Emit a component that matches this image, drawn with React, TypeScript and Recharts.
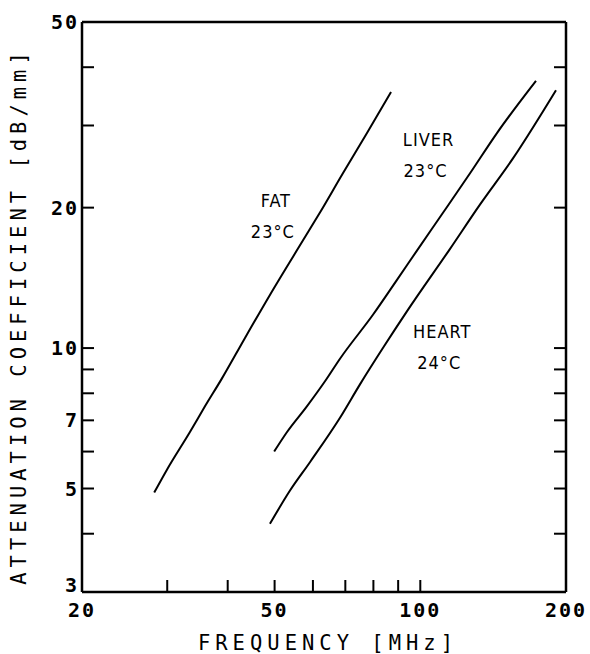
import React from 'react';
import { LineChart, Line, XAxis, YAxis, ReferenceDot, Label } from 'recharts';

// frequency [MHz] / attenuation [dB/mm]
const fatFreq = [28.2, 30, 33.4, 35.9, 38.9, 43.4, 48.9, 57.2, 62, 69.2, 77.6, 87];
const fatAtten = [4.9, 5.5, 6.6, 7.5, 8.6, 10.5, 13.0, 17, 19.5, 23.7, 28.9, 35.4];

const liverFreq = [49.9, 53, 58.3, 63.6, 68.3, 79.9, 89.5, 98.5, 111.4, 126.7, 144, 173.4];
const liverAtten = [6.0, 6.6, 7.5, 8.5, 9.5, 11.8, 14.0, 16.2, 19.5, 23.7, 28.9, 37.4];

const heartFreq = [48.9, 53.8, 59.2, 68.3, 75, 83.7, 93.9, 115.1, 132.8, 155.4, 190.7];
const heartAtten = [4.2, 4.95, 5.7, 7.1, 8.35, 10.0, 12.0, 16.3, 20.3, 25.5, 35.7];

const xTicks = [20, 30, 40, 50, 60, 70, 80, 90, 100, 200];
const xTickLabels = [20, 50, 100, 200];
const yTicks = [3, 4, 5, 6, 7, 8, 9, 10, 20, 30, 40, 50];
const yTickLabels = [3, 5, 7, 10, 20, 50];

// curve annotations: [frequency, attenuation, line1, line2]
const curveLabels: [number, number, string, string][] = [
  [50.3, 20.8, 'FAT', '23°C'],
  [104, 28.0, 'LIVER', '23°C'],
  [111, 10.9, 'HEART', '24°C'],
];

const toPoints = (fs: number[], as: number[]) => fs.map((f, i) => ({ f, a: as[i] }));

const W = 590;
const H = 654;
const LEFT = 82;
const TOP = 22;
const RIGHT = 24;
const BOTTOM = 62;
const TICK = 12;

const tickFont = {
  fontFamily: '"DejaVu Sans Mono", monospace',
  fontWeight: 700,
  fontSize: 20,
  letterSpacing: 2,
  fill: '#000',
};

const titleFont = {
  fontFamily: '"DejaVu Sans Mono", monospace',
  fontSize: 20.5,
  letterSpacing: 5,
  fill: '#000',
};

const BottomTick = ({ x, payload }: any) => (
  <g>
    <line x1={x} x2={x} y1={H - BOTTOM} y2={H - BOTTOM - TICK} stroke="#000" strokeWidth={2} />
    {xTickLabels.includes(payload.value) && (
      <text x={x} y={H - BOTTOM + 25} textAnchor="middle" {...tickFont}>
        {payload.value}
      </text>
    )}
  </g>
);

const TopTick = ({ x }: any) => (
  <line x1={x} x2={x} y1={TOP} y2={TOP + TICK} stroke="#000" strokeWidth={2} />
);

const LeftTick = ({ y, payload }: any) => (
  <g>
    <line x1={LEFT} x2={LEFT + TICK} y1={y} y2={y} stroke="#000" strokeWidth={2} />
    {yTickLabels.includes(payload.value) && (
      <text x={LEFT - 3} y={Math.min(y + 7, H - BOTTOM)} textAnchor="end" {...tickFont}>
        {payload.value}
      </text>
    )}
  </g>
);

const RightTick = ({ y }: any) => (
  <line x1={W - RIGHT} x2={W - RIGHT - TICK} y1={y} y2={y} stroke="#000" strokeWidth={2} />
);

const CurveLabel = (line1: string, line2: string) => (props: any) => {
  const { x, y } = props.viewBox;
  const font = {
    fontFamily: '"DejaVu Sans Condensed", "Liberation Sans Narrow", sans-serif',
    fontSize: 18,
    letterSpacing: 1,
    fill: '#000',
    textAnchor: 'middle' as const,
  };
  return (
    <g>
      <text x={x} y={y + 7} {...font}>{line1}</text>
      <text x={x - 3} y={y + 38} {...font}>{line2}</text>
    </g>
  );
};

export default function App() {
  return (
    <div style={{ position: 'absolute', left: 0, top: 0, background: '#fff' }}>
      <LineChart width={W} height={H} margin={{ top: 0, right: 0, bottom: 0, left: 0 }}>
        <XAxis
          xAxisId="b"
          type="number"
          dataKey="f"
          scale="log"
          domain={[20, 200]}
          allowDataOverflow
          ticks={xTicks}
          interval={0}
          height={BOTTOM}
          axisLine={{ stroke: '#000', strokeWidth: 2.5 }}
          tickLine={false}
          tick={<BottomTick />}
        >
          <Label
            content={() => (
              <text x={328} y={650} textAnchor="middle" {...titleFont}>
                FREQUENCY [MHz]
              </text>
            )}
          />
        </XAxis>
        <XAxis
          xAxisId="t"
          orientation="top"
          type="number"
          scale="log"
          domain={[20, 200]}
          allowDataOverflow
          ticks={xTicks}
          interval={0}
          height={TOP}
          axisLine={{ stroke: '#000', strokeWidth: 2.5 }}
          tickLine={false}
          tick={<TopTick />}
        />
        <YAxis
          yAxisId="l"
          type="number"
          dataKey="a"
          scale="log"
          domain={[3, 50]}
          allowDataOverflow
          ticks={yTicks}
          interval={0}
          width={LEFT}
          axisLine={{ stroke: '#000', strokeWidth: 2.5 }}
          tickLine={false}
          tick={<LeftTick />}
        >
          <Label
            content={() => (
              <text
                x={0}
                y={0}
                transform="translate(26, 316) rotate(-90)"
                textAnchor="middle"
                {...titleFont}
              >
                ATTENUATION COEFFICIENT [dB/mm]
              </text>
            )}
          />
        </YAxis>
        <YAxis
          yAxisId="r"
          orientation="right"
          type="number"
          scale="log"
          domain={[3, 50]}
          allowDataOverflow
          ticks={yTicks}
          interval={0}
          width={RIGHT}
          axisLine={{ stroke: '#000', strokeWidth: 2.5 }}
          tickLine={false}
          tick={<RightTick />}
        />
        <Line
          xAxisId="b"
          yAxisId="l"
          data={toPoints(fatFreq, fatAtten)}
          dataKey="a"
          type="monotone"
          stroke="#000"
          strokeWidth={2}
          dot={false}
          isAnimationActive={false}
        />
        <Line
          xAxisId="b"
          yAxisId="l"
          data={toPoints(liverFreq, liverAtten)}
          dataKey="a"
          type="monotone"
          stroke="#000"
          strokeWidth={2}
          dot={false}
          isAnimationActive={false}
        />
        <Line
          xAxisId="b"
          yAxisId="l"
          data={toPoints(heartFreq, heartAtten)}
          dataKey="a"
          type="monotone"
          stroke="#000"
          strokeWidth={2}
          dot={false}
          isAnimationActive={false}
        />
        {curveLabels.map(([f, a, l1, l2]) => (
          <ReferenceDot
            key={l1}
            xAxisId="b"
            yAxisId="l"
            x={f}
            y={a}
            r={0}
            fill="none"
            stroke="none"
            label={CurveLabel(l1, l2)}
          />
        ))}
      </LineChart>
    </div>
  );
}
